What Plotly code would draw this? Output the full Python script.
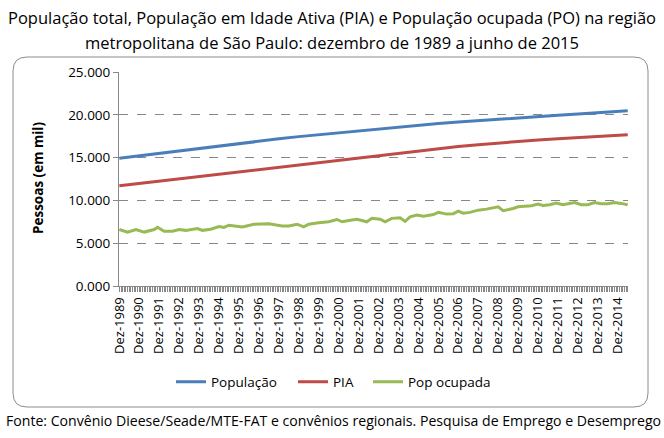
import plotly.graph_objects as go

# datas (dezembro de cada ano + junho 2015), valores em mil pessoas
anos_dez = [f"{a}-12-01" for a in range(1989, 2015)] + ["2015-06-01"]
populacao = [14930, 15220, 15510, 15800, 16090, 16370, 16650, 16920, 17190,
             17450, 17680, 17900, 18110, 18330, 18550, 18770, 18990, 19160,
             19330, 19500, 19650, 19800, 19940, 20090, 20240, 20390, 20470]
pia = [11700, 11970, 12240, 12510, 12790, 13060, 13330, 13610, 13890, 14170,
       14450, 14730, 15000, 15280, 15540, 15800, 16060, 16290, 16510, 16720,
       16900, 17060, 17210, 17360, 17500, 17620, 17680]

po_datas = ["1989-12", "1990-05", "1990-10", "1991-03", "1991-09", "1991-11",
            "1992-03", "1992-08", "1992-12", "1993-04", "1993-11", "1994-02",
            "1994-07", "1994-12", "1995-03", "1995-06", "1996-02", "1996-09",
            "1997-06", "1998-02", "1998-06", "1998-11", "1999-03", "1999-06",
            "1999-12", "2000-06", "2000-11", "2001-02", "2001-08", "2001-11",
            "2002-05", "2002-08", "2003-01", "2003-04", "2003-08", "2004-01",
            "2004-04", "2004-07", "2004-11", "2005-03", "2005-09", "2005-12",
            "2006-05", "2006-09", "2006-12", "2007-03", "2007-07", "2007-12",
            "2008-05", "2008-09", "2008-12", "2009-03", "2009-06", "2009-09",
            "2009-12", "2010-05", "2010-08", "2010-12", "2011-03", "2011-07",
            "2011-11", "2012-03", "2012-06", "2012-10", "2013-02", "2013-06",
            "2013-10", "2014-02", "2014-06", "2014-10", "2015-02", "2015-06"]
pop_ocupada = [6600, 6290, 6600, 6300, 6600, 6870, 6400, 6400, 6600, 6500,
               6720, 6500, 6630, 6950, 6840, 7100, 6900, 7220, 7260, 7000,
               7000, 7220, 6900, 7220, 7380, 7500, 7770, 7500, 7700, 7800,
               7500, 7900, 7800, 7500, 7900, 7980, 7550, 8080, 8300, 8150,
               8350, 8600, 8400, 8450, 8750, 8500, 8600, 8860, 8980, 9100,
               9250, 8800, 8900, 9050, 9250, 9300, 9370, 9570, 9400, 9500,
               9680, 9500, 9600, 9750, 9500, 9500, 9750, 9600, 9600, 9750,
               9650, 9500]
po_datas = [d + "-01" for d in po_datas]

y_ticks = [0, 5000, 10000, 15000, 20000, 25000]
y_labels = ["0.000", "5.000", "10.000", "15.000", "20.000", "25.000"]
x_ticks = [f"{a}-12-01" for a in range(1989, 2015)]
x_labels = [f"Dez-{a}" for a in range(1989, 2015)]

FONT = "Open Sans"

fig = go.Figure()
fig.add_trace(go.Scatter(x=anos_dez, y=populacao, name="População", mode="lines",
                         line=dict(color="#4A7EBB", width=3), legend="legend"))
fig.add_trace(go.Scatter(x=anos_dez, y=pia, name="PIA", mode="lines",
                         line=dict(color="#BE4B48", width=3), legend="legend2"))
fig.add_trace(go.Scatter(x=po_datas, y=pop_ocupada, name="Pop ocupada", mode="lines",
                         line=dict(color="#98B954", width=3), legend="legend3"))

# caixa arredondada em volta do gráfico (pixels -> paper)
L, R, T, B = 119, 628, 72, 286
def px(x):
    return (x - L) / (R - L)
def py(y):
    return (B - y) / (B - T)
x0, x1, y0, y1, r = 13, 648, 57, 407, 14
path = (f"M {px(x0 + r)} {py(y0)} L {px(x1 - r)} {py(y0)} "
        f"Q {px(x1)} {py(y0)} {px(x1)} {py(y0 + r)} L {px(x1)} {py(y1 - r)} "
        f"Q {px(x1)} {py(y1)} {px(x1 - r)} {py(y1)} L {px(x0 + r)} {py(y1)} "
        f"Q {px(x0)} {py(y1)} {px(x0)} {py(y1 - r)} L {px(x0)} {py(y0 + r)} "
        f"Q {px(x0)} {py(y0)} {px(x0 + r)} {py(y0)} Z")
fig.add_shape(type="path", path=path, xref="paper", yref="paper",
              line=dict(color="#8C8C8C", width=1), layer="below")

def legenda(xpx):
    return dict(orientation="h", x=px(xpx - 7), xanchor="left", y=py(382), yanchor="middle",
                font=dict(family=FONT, size=13.5), itemwidth=30,
                bgcolor="rgba(0,0,0,0)")

fig.update_layout(
    width=664, height=438,
    margin=dict(l=L, r=664 - R, t=T, b=438 - B),
    paper_bgcolor="white", plot_bgcolor="white",
    font=dict(family=FONT, size=12, color="black"),
    showlegend=True,
    legend=legenda(178), legend2=legenda(300), legend3=legenda(375),
    xaxis=dict(type="date", range=["1989-11-25", "2015-06-06"],
               tickmode="array", tickvals=x_ticks, ticktext=x_labels,
               tickangle=-90, tickfont=dict(size=13),
               showgrid=False, showline=True, linecolor="#888", linewidth=1,
               ticks="outside", ticklen=5, tickcolor="#888",
               minor=dict(ticks="outside", dtick="M1", tick0="1989-12-01",
                          ticklen=5, tickcolor="#888", showgrid=False)),
    yaxis=dict(range=[0, 25000], tickmode="array", tickvals=y_ticks, ticktext=y_labels,
               tickfont=dict(size=13.5),
               showgrid=True, gridcolor="#888", griddash="dash", gridwidth=1,
               showline=True, linecolor="#888", linewidth=1,
               ticks="outside", ticklen=5, tickcolor="#888", zeroline=False),
)

titulo = ["População total, População em Idade Ativa (PIA) e População ocupada (PO) na região",
          "metropolitana de São Paulo: dezembro de 1989 a junho de 2015"]
for linha, ypx in zip(titulo, [17, 42]):
    fig.add_annotation(text=linha, xref="paper", yref="paper", x=px(332), y=py(ypx),
                       xanchor="center", yanchor="middle", showarrow=False,
                       font=dict(family=FONT, size=16.5))

fig.add_annotation(text="<b>Pessoas (em mil)</b>", xref="paper", yref="paper",
                   x=px(38), y=py(178), textangle=-90, xanchor="center", yanchor="middle",
                   showarrow=False, font=dict(family=FONT, size=13.5))

fig.add_annotation(text="Fonte: Convênio Dieese/Seade/MTE-FAT e convênios regionais. Pesquisa de Emprego e Desemprego",
                   xref="paper", yref="paper", x=px(4), y=py(420), xanchor="left", yanchor="middle",
                   showarrow=False, font=dict(family=FONT, size=14.1))

fig.write_html("out.html", config={"displayModeBar": False},
               post_script="document.body.style.margin='0';")
